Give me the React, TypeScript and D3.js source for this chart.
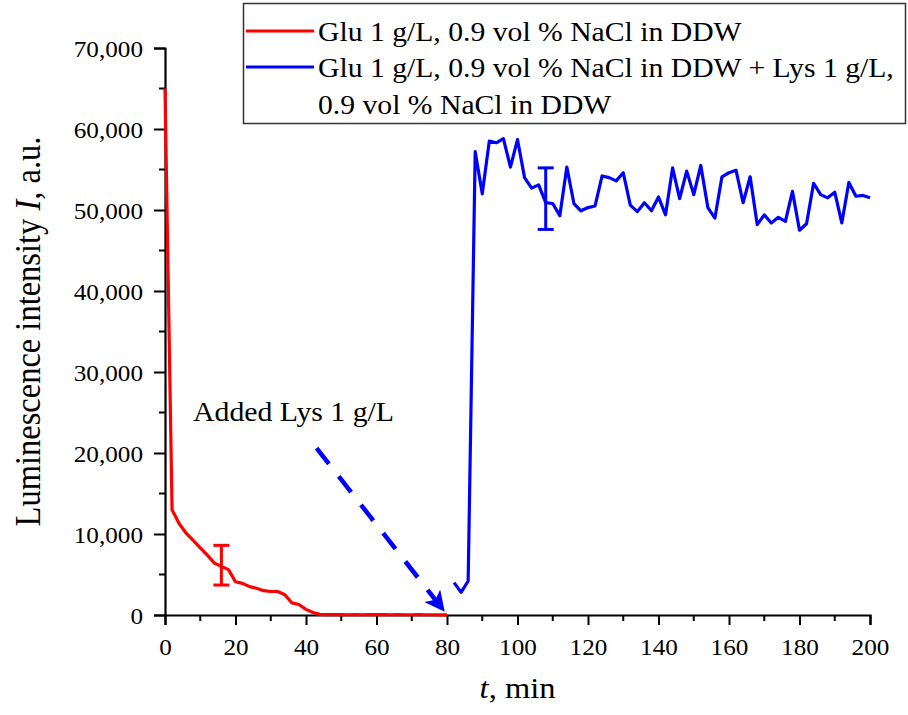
import { useEffect, useRef } from "react";
import * as d3 from "d3";

// red series: glucose only, sampled every 2 min
const redTime = [0, 2, 4, 6, 8, 10, 12, 14, 16, 18, 20, 22, 24, 26, 28, 30, 32, 34, 36, 38, 40, 42, 44, 46, 48, 50, 52, 54, 56, 58, 60, 62, 64, 66, 68, 70, 72, 74, 76, 78, 80];
const redValue = [65000, 13000, 11300, 10100, 9200, 8300, 7400, 6400, 6000, 5600, 4100, 3900, 3500, 3300, 3000, 2900, 2900, 2500, 1500, 1300, 700, 300, 80, 50, 40, 40, 30, 40, 30, 40, 50, 40, 30, 40, 30, 30, 40, 30, 30, 20, 20];

// blue series: after lysine was added
const blueTime = [82, 84, 86, 88, 90, 92, 94, 96, 98, 100, 102, 104, 106, 108, 110, 112, 114, 116, 118, 120, 122, 124, 126, 128, 130, 132, 134, 136, 138, 140, 142, 144, 146, 148, 150, 152, 154, 156, 158, 160, 162, 164, 166, 168, 170, 172, 174, 176, 178, 180, 182, 184, 186, 188, 190, 192, 194, 196, 198, 200];
const blueValue = [4000, 2800, 4200, 57200, 52000, 58500, 58300, 58800, 55300, 58700, 54000, 52700, 53100, 50900, 50800, 49300, 55300, 50800, 49900, 50300, 50500, 54200, 54000, 53600, 54600, 50600, 49800, 50900, 49900, 51600, 49400, 55200, 51400, 54800, 51900, 55500, 50300, 49000, 54100, 54600, 54900, 50900, 54100, 48200, 49400, 48400, 49100, 48600, 52300, 47500, 48300, 53300, 51900, 51500, 52200, 48400, 53400, 51700, 51800, 51500];

// error bars [time, center, half-range]
const redError = [16, 6150, 2450];
const blueError = [108, 51400, 3800];

const xTicks = [0, 20, 40, 60, 80, 100, 120, 140, 160, 180, 200];
const yTicks = [0, 10000, 20000, 30000, 40000, 50000, 60000, 70000];

const legendLabels = [
  ["Glu 1 g/L, 0.9 vol % NaCl in DDW"],
  ["Glu 1 g/L, 0.9 vol % NaCl in DDW + Lys 1 g/L,", "0.9 vol % NaCl in DDW"],
];
const seriesColors = ["#ff0000", "#0000ff"];

// annotation arrow, in data units: from [t, I] to [t, I]
const arrowFrom = [43, 20600];
const arrowTo = [79, 600];

const W = 908;
const H = 715;
const margin = { left: 165, right: 38, top: 48, bottom: 100 };
const FONT = "'Liberation Serif', 'Times New Roman', serif";
const SX = 1.12; // the picture's type is a little wider than normal

export default function App() {
  const ref = useRef<SVGSVGElement>(null);

  useEffect(() => {
    const svg = d3.select(ref.current);
    svg.selectAll("*").remove();

    const x = d3.scaleLinear().domain([0, 200]).range([margin.left, W - margin.right]);
    const y = d3.scaleLinear().domain([0, 70000]).range([H - margin.bottom, margin.top]);

    const label = (parent: any, px: number, py: number, size: number, anchor = "start") =>
      parent.append("text")
        .attr("transform", `translate(${px},${py}) scale(${SX},1)`)
        .attr("text-anchor", anchor)
        .attr("font-family", FONT)
        .attr("font-size", size)
        .attr("fill", "#000");

    svg.append("defs").append("marker")
      .attr("id", "arrowhead")
      .attr("viewBox", "0 0 10 10")
      .attr("refX", 9).attr("refY", 5)
      .attr("markerWidth", 5.5).attr("markerHeight", 4.5)
      .attr("markerUnits", "strokeWidth")
      .attr("orient", "auto")
      .append("path")
      .attr("d", "M0,0 L10,5 L0,10 L2.5,5 Z")
      .attr("fill", "#0000ff");

    // axes
    const xAxis = svg.append("g")
      .attr("transform", `translate(0,${y(0)})`)
      .call(d3.axisBottom(x).tickValues(xTicks).tickSize(10).tickFormat(d3.format("d")));
    xAxis.append("g").selectAll("line")
      .data(d3.range(10, 200, 20))
      .join("line")
      .attr("x1", d => x(d)).attr("x2", d => x(d))
      .attr("y1", 0).attr("y2", 6)
      .attr("stroke", "#000").attr("stroke-width", 2);
    xAxis.selectAll(".tick text")
      .attr("y", 0).attr("dy", null)
      .attr("transform", `translate(0,40) scale(${SX},1)`);

    const yAxis = svg.append("g")
      .attr("transform", `translate(${x(0)},0)`)
      .call(d3.axisLeft(y).tickValues(yTicks).tickSize(11).tickFormat(d3.format(",")));
    yAxis.append("g").selectAll("line")
      .data(d3.range(5000, 70000, 10000))
      .join("line")
      .attr("x1", 0).attr("x2", -6)
      .attr("y1", d => y(d)).attr("y2", d => y(d))
      .attr("stroke", "#000").attr("stroke-width", 2);
    yAxis.selectAll(".tick text")
      .attr("x", 0).attr("dy", null)
      .attr("transform", `translate(-22,8) scale(${SX},1)`);

    [xAxis, yAxis].forEach(ax => {
      ax.attr("font-family", FONT).attr("font-size", 22.5);
      ax.select(".domain").attr("stroke", "#000").attr("stroke-width", 2.2);
      ax.selectAll(".tick line").attr("stroke", "#000").attr("stroke-width", 2);
      ax.selectAll(".tick text").attr("fill", "#000");
    });

    // axis titles
    const yt = svg.append("text")
      .attr("transform", `translate(40,${(y(0) + y(70000)) / 2}) rotate(-90) scale(1,${SX})`)
      .attr("text-anchor", "middle")
      .attr("font-family", FONT).attr("font-size", 32.5);
    yt.append("tspan").text("Luminescence intensity ");
    yt.append("tspan").attr("font-style", "italic").text("I");
    yt.append("tspan").text(", a.u.");

    const xt = label(svg, (x(0) + x(200)) / 2, 698, 29, "middle");
    xt.append("tspan").attr("font-style", "italic").text("t");
    xt.append("tspan").text(", min");

    // lines
    const line = d3.line<[number, number]>().x(d => x(d[0])).y(d => y(d[1]));
    const redData = redTime.map((t, i) => [t, redValue[i]] as [number, number]);
    const blueData = blueTime.map((t, i) => [t, blueValue[i]] as [number, number]);

    svg.append("path").datum(redData).attr("d", line)
      .attr("fill", "none").attr("stroke", seriesColors[0])
      .attr("stroke-width", 3.2).attr("stroke-linejoin", "round");
    svg.append("path").datum(blueData).attr("d", line)
      .attr("fill", "none").attr("stroke", seriesColors[1])
      .attr("stroke-width", 3.2).attr("stroke-linejoin", "round");

    // error bars
    [redError, blueError].forEach((e, i) => {
      const g = svg.append("g").attr("stroke", seriesColors[i]).attr("stroke-width", 3);
      const cx = x(e[0]);
      g.append("line").attr("x1", cx).attr("x2", cx).attr("y1", y(e[1] - e[2])).attr("y2", y(e[1] + e[2]));
      g.append("line").attr("x1", cx - 8).attr("x2", cx + 8).attr("y1", y(e[1] - e[2])).attr("y2", y(e[1] - e[2]));
      g.append("line").attr("x1", cx - 8).attr("x2", cx + 8).attr("y1", y(e[1] + e[2])).attr("y2", y(e[1] + e[2]));
    });

    // annotation
    label(svg, 193, 421, 26.6).text("Added Lys 1 g/L");
    svg.append("line")
      .attr("x1", x(arrowFrom[0])).attr("y1", y(arrowFrom[1]))
      .attr("x2", x(arrowTo[0])).attr("y2", y(arrowTo[1]))
      .attr("stroke", "#0000ff").attr("stroke-width", 4.5)
      .attr("stroke-dasharray", "20 16")
      .attr("marker-end", "url(#arrowhead)");

    // legend
    const lg = svg.append("g");
    lg.append("rect")
      .attr("x", 243.5).attr("y", 3.5).attr("width", 662).attr("height", 120)
      .attr("fill", "#fff").attr("stroke", "#333").attr("stroke-width", 1.5);
    const rowY = [[31], [67, 104]];
    legendLabels.forEach((lines, i) => {
      lg.append("line")
        .attr("x1", 246).attr("x2", 314)
        .attr("y1", rowY[i][0]).attr("y2", rowY[i][0])
        .attr("stroke", seriesColors[i]).attr("stroke-width", 3.2);
      lines.forEach((s, j) => {
        label(lg, 318, rowY[i][j] + 10, 26.5).text(s);
      });
    });
  }, []);

  return (
    <div style={{ position: "absolute", left: 0, top: 0 }}>
      <svg ref={ref} width={W} height={H} style={{ display: "block", background: "#fff" }} />
    </div>
  );
}
